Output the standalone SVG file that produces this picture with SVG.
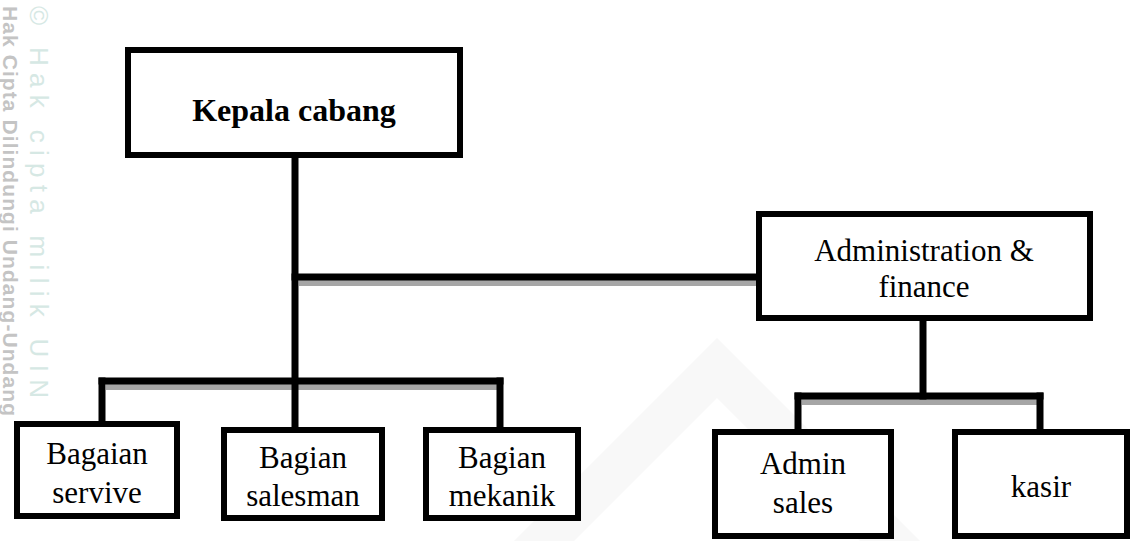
<svg xmlns="http://www.w3.org/2000/svg" width="1142" height="541" viewBox="0 0 1142 541">
  <style>
    .box { fill: #ffffff; stroke: #000000; stroke-width: 6; }
    .lbl { font-family: "Liberation Serif", "Times New Roman", serif; font-size: 31px; fill: #000000; text-anchor: middle; }
    .bold { font-weight: bold; font-size: 32px; }
    .ln { stroke: #000000; stroke-width: 7; fill: none; stroke-linecap: square; }
    .sh { stroke: #a6a6a6; stroke-width: 6; fill: none; }
    .wm1 { font-family: "Liberation Sans", Arial, sans-serif; font-size: 21px; font-weight: bold; fill: #c4c4c4; }
    .wm2 { font-family: "Liberation Sans", Arial, sans-serif; font-size: 26px; fill: #d6e8e4; }
  </style>

  <rect x="0" y="0" width="1142" height="541" fill="#ffffff"/>

  <g id="watermark">
    <path d="M717 338 L920 541 L860 541 L717 398 L574 541 L514 541 Z" fill="#f8f8f8"/>
    <text class="wm1" transform="translate(3,6) rotate(90)" textLength="410" lengthAdjust="spacing">Hak Cipta Dilindungi Undang-Undang</text>
    <text class="wm2" transform="translate(30,6) rotate(90)" textLength="392" lengthAdjust="spacing">© Hak cipta milik UIN</text>
  </g>

  <g id="connectors">
    <line class="sh" x1="299" y1="283" x2="756" y2="283"/>
    <line class="sh" x1="106" y1="387" x2="500" y2="387"/>
    <line class="sh" x1="802" y1="402" x2="1040" y2="402"/>
    <line class="ln" x1="295" y1="158" x2="295" y2="428"/>
    <line class="ln" x1="295" y1="277" x2="756" y2="277"/>
    <line class="ln" x1="102" y1="381" x2="500" y2="381"/>
    <line class="ln" x1="102" y1="381" x2="102" y2="422"/>
    <line class="ln" x1="500" y1="381" x2="500" y2="428"/>
    <line class="ln" x1="923" y1="321" x2="923" y2="396"/>
    <line class="ln" x1="798" y1="396" x2="1040" y2="396"/>
    <line class="ln" x1="798" y1="396" x2="798" y2="428"/>
    <line class="ln" x1="1040" y1="396" x2="1040" y2="428"/>
  </g>

  <g id="kepala-cabang">
    <rect class="box" x="128" y="50" width="332" height="105"/>
    <text class="lbl bold" x="294" y="121">Kepala cabang</text>
  </g>

  <g id="administration-finance">
    <rect class="box" x="759" y="214" width="331" height="104"/>
    <text class="lbl" x="924" y="261">Administration &amp;</text>
    <text class="lbl" x="924" y="297">finance</text>
  </g>

  <g id="bagaian-servive">
    <rect class="box" x="17" y="424" width="160" height="92"/>
    <text class="lbl" x="97" y="464">Bagaian</text>
    <text class="lbl" x="97" y="503">servive</text>
  </g>

  <g id="bagian-salesman">
    <rect class="box" x="224" y="430" width="158" height="88"/>
    <text class="lbl" x="303" y="468">Bagian</text>
    <text class="lbl" x="303" y="506">salesman</text>
  </g>

  <g id="bagian-mekanik">
    <rect class="box" x="426" y="430" width="152" height="88"/>
    <text class="lbl" x="502" y="468">Bagian</text>
    <text class="lbl" x="502" y="506">mekanik</text>
  </g>

  <g id="admin-sales">
    <rect class="box" x="715" y="432" width="176" height="104"/>
    <text class="lbl" x="803" y="474">Admin</text>
    <text class="lbl" x="803" y="513">sales</text>
  </g>

  <g id="kasir">
    <rect class="box" x="955" y="432" width="172" height="104"/>
    <text class="lbl" x="1041" y="497">kasir</text>
  </g>
</svg>
